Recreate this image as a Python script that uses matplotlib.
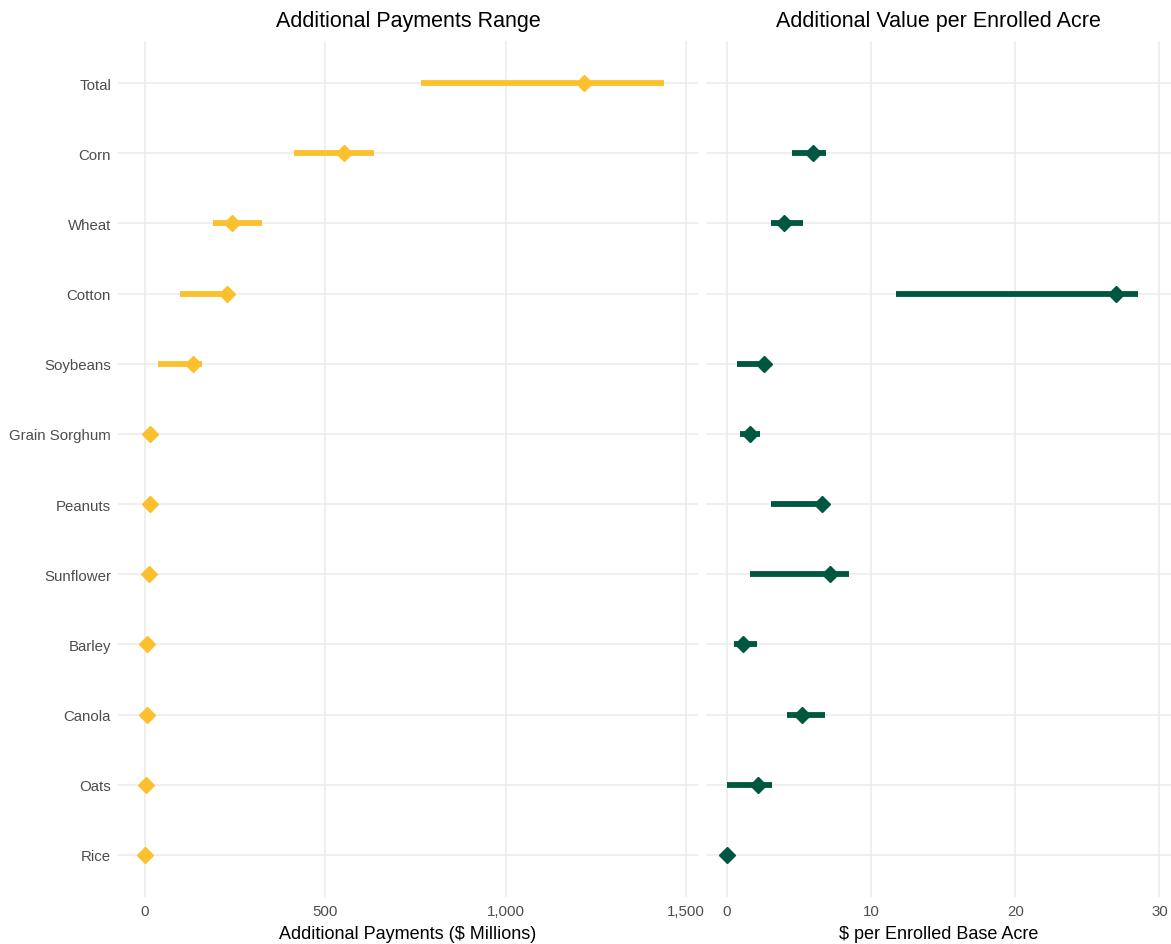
import numpy as np
import matplotlib.pyplot as plt
from matplotlib.ticker import FuncFormatter

plt.rcParams['font.family'] = ['Liberation Sans', 'DejaVu Sans']

crops = ['Total', 'Corn', 'Wheat', 'Cotton', 'Soybeans', 'Grain Sorghum',
         'Peanuts', 'Sunflower', 'Barley', 'Canola', 'Oats', 'Rice']

# additional payments, $ millions (low, high, point)
pay_low = [764, 414, 187, 97, 35, np.nan, np.nan, np.nan, np.nan, np.nan, np.nan, np.nan]
pay_high = [1438, 634, 323, 230, 158, np.nan, np.nan, np.nan, np.nan, np.nan, np.nan, np.nan]
pay_mid = [1218, 551, 242, 226, 133, 14, 15, 10, 5, 6, 3, 0]

# $ per enrolled base acre (low, high, point); no per-acre value for Total
acre_low = [np.nan, 4.5, 3.05, 11.7, 0.67, 0.93, 3.05, 1.62, 0.49, 4.15, 0.0, np.nan]
acre_high = [np.nan, 6.9, 5.25, 28.5, 3.0, 2.32, 6.8, 8.47, 2.09, 6.82, 3.13, np.nan]
acre_mid = [np.nan, 6.0, 3.94, 26.96, 2.6, 1.62, 6.59, 7.17, 1.14, 5.24, 2.16, 0.0]

yellow = '#FBC02D'
green = '#00573F'
grid_col = '#EBEBEB'

fig = plt.figure(figsize=(11.71, 9.45), dpi=100)
ax1 = fig.add_axes([118 / 1171, 1 - 898 / 945, 580 / 1171, 856 / 945])
ax2 = fig.add_axes([706 / 1171, 1 - 898 / 945, 465 / 1171, 856 / 945])

y = np.arange(len(crops))


def style_axis(ax):
    for s in ax.spines.values():
        s.set_visible(False)
    ax.grid(True, color=grid_col, linewidth=1.1)
    ax.set_axisbelow(True)
    ax.tick_params(length=0, labelsize=10.8, labelcolor='#4D4D4D', pad=5)
    ax.set_ylim(len(crops) - 0.4, -0.6)
    ax.set_yticks(y)


style_axis(ax1)
ax1.hlines(y, pay_low, pay_high, color=yellow, linewidth=4.2)
ax1.plot(pay_mid, y, 'D', color=yellow, markersize=8, linestyle='none')
ax1.set_xlim(-75, 1533)
ax1.set_xticks([0, 500, 1000, 1500])
ax1.xaxis.set_major_formatter(FuncFormatter(lambda v, p: f'{int(v):,}'))
ax1.set_yticklabels(crops)
ax1.set_title('Additional Payments Range', fontsize=15.5, pad=11)
ax1.set_xlabel('Additional Payments ($ Millions)', fontsize=13, labelpad=5)

style_axis(ax2)
ax2.hlines(y, acre_low, acre_high, color=green, linewidth=4.2)
ax2.plot(acre_mid, y, 'D', color=green, markersize=8, linestyle='none')
ax2.set_xlim(-1.45, 30.8)
ax2.set_xticks([0, 10, 20, 30])
ax2.set_yticklabels([])
ax2.set_title('Additional Value per Enrolled Acre', fontsize=15.5, pad=11)
ax2.set_xlabel('$ per Enrolled Base Acre', fontsize=13, labelpad=5)

fig.savefig('out.png', dpi=100)
